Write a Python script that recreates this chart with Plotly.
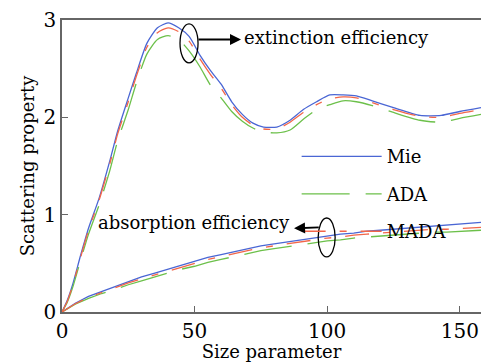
import plotly.graph_objects as go

# ---- data ----
x_ext = [0, 2, 4, 7, 10, 14, 18, 21, 25, 28, 32, 36, 40, 44, 48, 52, 56, 60, 64, 68, 72, 76, 81, 86, 91, 96, 101, 106, 111, 117, 125, 135, 143, 150, 158]
mie_ext = [0, 0.12, 0.28, 0.58, 0.86, 1.17, 1.55, 1.86, 2.20, 2.45, 2.76, 2.92, 2.97, 2.92, 2.83, 2.64, 2.48, 2.34, 2.16, 2.03, 1.94, 1.90, 1.90, 1.97, 2.08, 2.16, 2.23, 2.23, 2.22, 2.17, 2.10, 2.02, 2.02, 2.06, 2.10]
ada_ext = [0, 0.10, 0.25, 0.53, 0.80, 1.10, 1.45, 1.76, 2.08, 2.35, 2.65, 2.80, 2.84, 2.80, 2.68, 2.52, 2.33, 2.20, 2.06, 1.96, 1.89, 1.85, 1.84, 1.87, 1.98, 2.08, 2.13, 2.17, 2.16, 2.12, 2.05, 1.97, 1.95, 1.99, 2.03]
mada_ext = [0, 0.11, 0.27, 0.56, 0.84, 1.15, 1.52, 1.83, 2.16, 2.42, 2.72, 2.87, 2.92, 2.88, 2.78, 2.60, 2.44, 2.30, 2.13, 2.00, 1.92, 1.88, 1.88, 1.95, 2.05, 2.13, 2.19, 2.21, 2.20, 2.15, 2.08, 2.01, 2.00, 2.04, 2.08]

x_abs = [0, 5, 10, 15, 20, 25, 30, 35, 40, 45, 50, 55, 60, 65, 70, 75, 80, 85, 90, 95, 100, 105, 110, 115, 120, 125, 130, 135, 140, 145, 150, 155, 158]
mie_abs = [0, 0.09, 0.16, 0.21, 0.26, 0.31, 0.36, 0.40, 0.44, 0.48, 0.52, 0.56, 0.59, 0.62, 0.65, 0.68, 0.70, 0.72, 0.74, 0.76, 0.78, 0.80, 0.81, 0.83, 0.84, 0.85, 0.86, 0.87, 0.88, 0.89, 0.90, 0.91, 0.92]
ada_abs = [0, 0.08, 0.14, 0.19, 0.23, 0.28, 0.32, 0.36, 0.40, 0.44, 0.47, 0.51, 0.54, 0.57, 0.60, 0.63, 0.65, 0.67, 0.69, 0.71, 0.73, 0.74, 0.76, 0.77, 0.78, 0.79, 0.80, 0.81, 0.82, 0.82, 0.83, 0.84, 0.84]
mada_abs = [0, 0.085, 0.15, 0.20, 0.25, 0.30, 0.34, 0.38, 0.42, 0.46, 0.50, 0.54, 0.57, 0.60, 0.63, 0.66, 0.68, 0.70, 0.72, 0.74, 0.76, 0.77, 0.79, 0.80, 0.81, 0.82, 0.83, 0.84, 0.85, 0.85, 0.86, 0.87, 0.87]

x_ticks = [0, 50, 100, 150]
y_ticks = [0, 1, 2, 3]

BLUE = "#4a66d4"
GREEN = "#6cc04a"
RED = "#f2664a"
ADA_DASH = "48px,16px"
MADA_DASH = "24px,14px,7px,14px"
FONT = "DejaVu Serif"

fig = go.Figure()
series = [
    ("Mie", mie_ext, mie_abs, BLUE, "solid"),
    ("ADA", ada_ext, ada_abs, GREEN, ADA_DASH),
    ("MADA", mada_ext, mada_abs, RED, MADA_DASH),
]
for name, ext, ab, col, dash in series:
    fig.add_trace(go.Scatter(x=x_ext, y=ext, mode="lines", name=name, legendgroup=name,
                             line=dict(color=col, width=1.3, dash=dash, shape="spline", smoothing=0.6)))
    fig.add_trace(go.Scatter(x=x_abs, y=ab, mode="lines", name=name, legendgroup=name, showlegend=False,
                             line=dict(color=col, width=1.3, dash=dash)))

# ellipses
fig.add_shape(type="circle", xref="x", yref="y", x0=44.5, x1=51.3, y0=2.56, y1=2.96,
              line=dict(color="black", width=1.3))
fig.add_shape(type="circle", xref="x", yref="y", x0=96.6, x1=103.0, y0=0.566, y1=0.966,
              line=dict(color="black", width=1.3))

# arrows
fig.add_annotation(x=67.5, y=2.80, ax=50.9, ay=2.80, xref="x", yref="y", axref="x", ayref="y",
                   text="", showarrow=True, arrowhead=2, arrowsize=1.1, arrowwidth=2, arrowcolor="black")
fig.add_annotation(x=87.5, y=0.86, ax=97.4, ay=0.87, xref="x", yref="y", axref="x", ayref="y",
                   text="", showarrow=True, arrowhead=2, arrowsize=1.1, arrowwidth=2, arrowcolor="black")

fig.add_annotation(x=67.8, y=2.82, xref="x", yref="y", text="extinction efficiency", showarrow=False,
                   xanchor="left", yanchor="middle", font=dict(family=FONT, size=18, color="black"))
fig.add_annotation(x=13.0, y=0.92, xref="x", yref="y", text="absorption efficiency", showarrow=False,
                   xanchor="left", yanchor="middle", font=dict(family=FONT, size=18, color="black"))

axis_common = dict(showgrid=False, zeroline=False, showline=True, linecolor="#666", linewidth=1.5,
                   ticks="inside", ticklen=6, tickcolor="#666", tickwidth=1.3,
                   tickfont=dict(family=FONT, size=20, color="black"))

fig.update_layout(
    width=481, height=362,
    margin=dict(l=62, r=0, t=20, b=50),
    paper_bgcolor="white", plot_bgcolor="white",
    xaxis=dict(range=[0, 158], tickvals=x_ticks, mirror=True,
               title=dict(text="Size parameter", font=dict(family=FONT, size=18, color="black"), standoff=2),
               **axis_common),
    yaxis=dict(range=[0, 3], tickvals=y_ticks,
               title=dict(text="Scattering property", font=dict(family=FONT, size=18, color="black"), standoff=4),
               **axis_common),
    legend=dict(x=0.56, y=0.595, xanchor="left", yanchor="top", bgcolor="rgba(0,0,0,0)",
                itemwidth=80, tracegroupgap=11,
                font=dict(family=FONT, size=18, color="black")),
    showlegend=True,
)

fig.write_html("out.html")
